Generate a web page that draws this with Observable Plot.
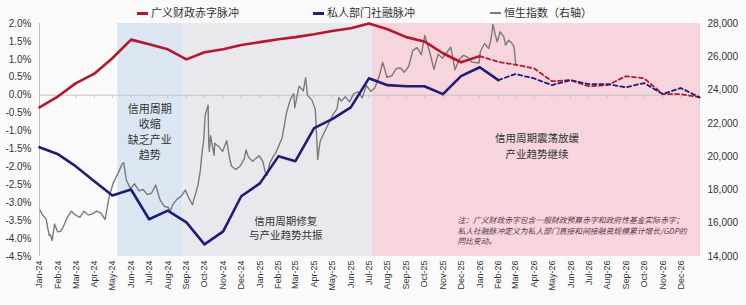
<!DOCTYPE html>
<html><head><meta charset="utf-8">
<script src="https://cdn.jsdelivr.net/npm/d3@7"></script>
<script src="https://cdn.jsdelivr.net/npm/@observablehq/plot@0.6"></script>
<style>
body{margin:0;background:#fafafa;}
#wrap{position:relative;width:746px;height:305px;overflow:hidden;background:#fafafa;}
.lg{position:absolute;top:5px;font-size:11px;color:#333;font-family:"Noto Sans CJK SC",sans-serif;white-space:nowrap;line-height:14px;}
.lg i{display:inline-block;width:11px;height:3px;vertical-align:middle;margin-right:3px;margin-top:-2px;}
</style></head><body><div id="wrap">
<div class="lg" style="left:137px"><i style="background:#b5172d"></i>广义财政赤字脉冲</div>
<div class="lg" style="left:313px"><i style="background:#1f1d78"></i>私人部门社融脉冲</div>
<div class="lg" style="left:490px"><i style="background:#7a7a7a;height:2px"></i>恒生指数（右轴）</div>
</div>
<script>
// ---- data ----
const months = ["2024-01-01","2024-02-01","2024-03-01","2024-04-01","2024-05-01","2024-06-01","2024-07-01","2024-08-01","2024-09-01","2024-10-01","2024-11-01","2024-12-01",
"2025-01-01","2025-02-01","2025-03-01","2025-04-01","2025-05-01","2025-06-01","2025-07-01","2025-08-01","2025-09-01","2025-10-01","2025-11-01","2025-12-01",
"2026-01-01","2026-02-01","2026-03-01","2026-04-01","2026-05-01","2026-06-01","2026-07-01","2026-08-01","2026-09-01","2026-10-01","2026-11-01","2026-12-01","2027-01-01"];
// 广义财政赤字脉冲 (%)
const fiscalPulse = [-0.34,-0.03,0.33,0.6,1.03,1.55,1.42,1.28,1.0,1.2,1.28,1.4,
1.48,1.56,1.62,1.7,1.79,1.87,2.0,1.84,1.62,1.5,1.17,0.92,
1.09,0.93,0.85,0.75,0.39,0.42,0.25,0.28,0.53,0.47,0.03,0.03,-0.06];
// 私人部门社融脉冲 (%)
const creditPulse = [-1.45,-1.65,-1.98,-2.4,-2.8,-2.63,-3.46,-3.22,-3.55,-4.16,-3.8,-2.82,
-2.46,-1.7,-1.84,-0.92,-0.67,-0.34,0.47,0.28,0.25,0.25,0.03,0.53,
0.78,0.42,0.59,0.47,0.28,0.42,0.31,0.31,0.22,0.34,0.03,0.2,-0.06];
const fiscalLastActual = "2026-01-01";
const creditLastActual = "2026-02-01";
// 恒生指数 (right axis)
const hsi = [
["2024-01-02",16789],["2024-01-05",16535],["2024-01-12",16244],["2024-01-17",15277],["2024-01-19",15308],["2024-01-22",14961],["2024-01-26",15952],["2024-01-31",15485],
["2024-02-05",15510],["2024-02-09",15747],["2024-02-16",16340],["2024-02-23",16726],["2024-02-29",16511],
["2024-03-08",16354],["2024-03-15",16721],["2024-03-22",16499],["2024-03-28",16541],
["2024-04-05",16724],["2024-04-12",16600],["2024-04-19",16224],["2024-04-26",17651],
["2024-05-03",18476],["2024-05-10",18964],["2024-05-17",19554],["2024-05-20",19636],["2024-05-24",18609],["2024-05-31",18080],
["2024-06-07",18367],["2024-06-14",17942],["2024-06-21",18028],["2024-06-28",17719],
["2024-07-05",17799],["2024-07-12",18293],["2024-07-19",17417],["2024-07-26",17021],
["2024-08-02",16946],["2024-08-05",16698],["2024-08-09",17090],["2024-08-16",17430],["2024-08-23",17612],["2024-08-30",17989],
["2024-09-06",17444],["2024-09-11",17108],["2024-09-13",17369],["2024-09-20",18258],["2024-09-24",19129],["2024-09-26",19924],["2024-09-30",21134],
["2024-10-02",22443],["2024-10-04",22737],["2024-10-07",23100],["2024-10-08",20927],["2024-10-09",20318],["2024-10-11",21252],["2024-10-17",20079],["2024-10-18",20804],["2024-10-25",20590],["2024-10-31",20317],
["2024-11-07",20953],["2024-11-12",19846],["2024-11-15",19426],["2024-11-22",19229],["2024-11-29",19424],
["2024-12-06",19865],["2024-12-09",20414],["2024-12-13",19971],["2024-12-20",19720],["2024-12-31",20060],
["2025-01-06",19688],["2025-01-10",19064],["2025-01-13",18874],["2025-01-17",19584],["2025-01-24",20066],["2025-01-27",20197],
["2025-02-07",21133],["2025-02-14",22620],["2025-02-21",23477],["2025-02-26",23787],["2025-02-28",22941],
["2025-03-07",24231],["2025-03-14",23959],["2025-03-18",24740],["2025-03-21",23690],["2025-03-28",23426],
["2025-04-03",22849],["2025-04-07",19828],["2025-04-11",20915],["2025-04-17",21395],["2025-04-25",21980],
["2025-05-02",22504],["2025-05-09",22868],["2025-05-12",23549],["2025-05-16",23345],["2025-05-23",23601],["2025-05-30",23290],
["2025-06-06",23792],["2025-06-13",23892],["2025-06-20",23530],["2025-06-27",24284],
["2025-07-04",23916],["2025-07-11",24139],["2025-07-18",24826],["2025-07-24",25667],["2025-07-31",24773],
["2025-08-08",24859],["2025-08-15",25270],["2025-08-22",25339],["2025-08-29",25077],
["2025-09-05",25418],["2025-09-12",26388],["2025-09-19",26545],["2025-09-26",26128],
["2025-10-02",27287],["2025-10-10",26290],["2025-10-17",25247],["2025-10-24",26160],["2025-10-31",25907],
["2025-11-07",26241],["2025-11-14",26572],["2025-11-21",25220],["2025-11-28",25858],
["2025-12-05",26085],["2025-12-12",25976],["2025-12-19",25690],["2025-12-31",25630],
["2026-01-02",26300],["2026-01-09",26800],["2026-01-16",26500],["2026-01-20",27100],["2026-01-23",27950],["2026-01-27",27300],["2026-01-30",26900],
["2026-02-04",27500],["2026-02-10",27200],["2026-02-13",26700],["2026-02-18",27000],["2026-02-24",26800],["2026-02-27",26600],["2026-03-02",25500]
];
const leftTicks = [-4.5,-4.0,-3.5,-3.0,-2.5,-2.0,-1.5,-1.0,-0.5,0.0,0.5,1.0,1.5,2.0];
const rightTicks = [14000,16000,18000,20000,22000,24000,26000,28000];
const phases = [
  {name:"contraction", start:"2024-05-10", end:"2024-08-26"},
  {name:"repair", start:"2024-08-26", end:"2025-07-07"},
  {name:"oscillation", start:"2025-07-07", end:"2027-01-01"}
];
const notes = [
  {text:"信用周期\n收缩\n缺乏产业\n趋势", date:"2024-07-02", value:-1.0, kind:"big"},
  {text:"信用周期修复\n与产业趋势共振", date:"2025-02-13", value:-3.7, kind:"mid"},
  {text:"信用周期震荡放缓\n产业趋势继续", date:"2026-04-06", value:-1.38, kind:"mid2"}
];
const footnote = {text:"注：广义财政赤字包含一般财政预算赤字和政府性基金实际赤字；\n私人社融脉冲定义为私人部门直接和间接融资规模累计增长/GDP的\n同比变动。", date:"2025-11-25", value:-3.77};

// ---- build ----
const RED = "#b5172d", BLUE = "#1f1d78", GRAY = "#7a7a7a";
const phaseFill = {contraction:"#dbe6f2", repair:"#e9e9ed", oscillation:"#f6d5dc"};
const yDomain = [-4.5, 2.0];
const toPct = v => yDomain[0] + (v - rightTicks[0]) / (rightTicks[rightTicks.length-1] - rightTicks[0]) * (yDomain[1] - yDomain[0]);
const fromPct = p => rightTicks[0] + (p - yDomain[0]) / (yDomain[1] - yDomain[0]) * (rightTicks[rightTicks.length-1] - rightTicks[0]);
const D = s => new Date(s);
const fiscalRows = months.map((m,i) => ({date:D(m), value:fiscalPulse[i], m}));
const creditRows = months.map((m,i) => ({date:D(m), value:creditPulse[i], m}));
const fiscalSolid = fiscalRows.filter(d => d.m <= fiscalLastActual);
const fiscalDash = fiscalRows.filter(d => d.m >= fiscalLastActual);
const creditSolid = creditRows.filter(d => d.m <= creditLastActual);
const creditDash = creditRows.filter(d => d.m >= creditLastActual);
const hsiRows = hsi.map(([d,v]) => ({date:D(d), value:v}));
const xTicks = months.slice(0, 36).map(D);
const xDomain = [D(months[0]), D(months[months.length-1])];
const cjk = "Noto Sans CJK SC";

const chart = Plot.plot({
  width: 746, height: 305,
  marginTop: 23, marginBottom: 49, marginLeft: 39, marginRight: 47,
  style: {background:"transparent", overflow:"visible", fontFamily:"Liberation Sans, Arial, sans-serif", color:"#333"},
  x: {type:"utc", domain: xDomain},
  y: {domain: yDomain},
  marks: [
    Plot.rect(phases, {x1: d => D(d.start), x2: d => D(d.end), y1: () => yDomain[0], y2: () => yDomain[1], fill: d => phaseFill[d.name]}),
    Plot.ruleY([0], {stroke:"#c4c4c4", strokeWidth:1}),
    Plot.link(xTicks, {x1: d => d, x2: d => d, y1: () => 0, y2: () => -0.08, stroke:"#c4c4c4"}),
    Plot.ruleX([xDomain[0]], {stroke:"#bdbdbd"}),
    Plot.ruleX([xDomain[1]], {stroke:"#d6d6d6"}),
    Plot.line(hsiRows, {x:"date", y: d => toPct(d.value), stroke: GRAY, strokeWidth: 1.4, curve:"linear"}),
    Plot.line(fiscalDash, {x:"date", y:"value", stroke: RED, strokeWidth: 1.8, strokeDasharray:"4,3"}),
    Plot.line(creditDash, {x:"date", y:"value", stroke: BLUE, strokeWidth: 1.8, strokeDasharray:"4,3"}),
    Plot.line(fiscalSolid, {x:"date", y:"value", stroke: RED, strokeWidth: 2.6}),
    Plot.line(creditSolid, {x:"date", y:"value", stroke: BLUE, strokeWidth: 2.6}),
    Plot.text(notes.filter(d => d.kind === "big"), {x: d => D(d.date), y:"value", text:"text", fontSize: 11, lineHeight: 1.42, fill:"#333", fontFamily: cjk}),
    Plot.text(notes.filter(d => d.kind === "mid"), {x: d => D(d.date), y:"value", text:"text", fontSize: 10.5, lineHeight: 1.35, fill:"#333", fontFamily: cjk}),
    Plot.text(notes.filter(d => d.kind === "mid2"), {x: d => D(d.date), y:"value", text:"text", fontSize: 10.5, lineHeight: 1.6, fill:"#333", fontFamily: cjk}),
    Plot.text([footnote], {x: d => D(d.date), y:"value", text:"text", fontSize: 7.8, lineHeight: 1.3, textAnchor:"start", fill:"#5a3a4c", fontStyle:"italic", fontFamily: cjk}),
    Plot.axisY(leftTicks, {anchor:"left", tickSize:0, tickPadding:8, fontSize:10, fill:"#333", tickFormat: d => d.toFixed(1) + "%", label:null}),
    Plot.axisY(rightTicks.map(toPct), {anchor:"right", tickSize:0, tickPadding:8, fontSize:10, fill:"#333", tickFormat: d => d3.format(",")(Math.round(fromPct(d)/1000)*1000), label:null}),
    Plot.axisX(xTicks, {anchor:"bottom", tickSize:0, tickPadding:4, tickRotate:-90, fontSize:9, fill:"#333", tickFormat: d3.utcFormat("%b-%y"), label:null})
  ]
});
chart.style.position = "absolute";
chart.style.left = "0"; chart.style.top = "0";
document.getElementById("wrap").prepend(chart);
</script>
</body></html>
